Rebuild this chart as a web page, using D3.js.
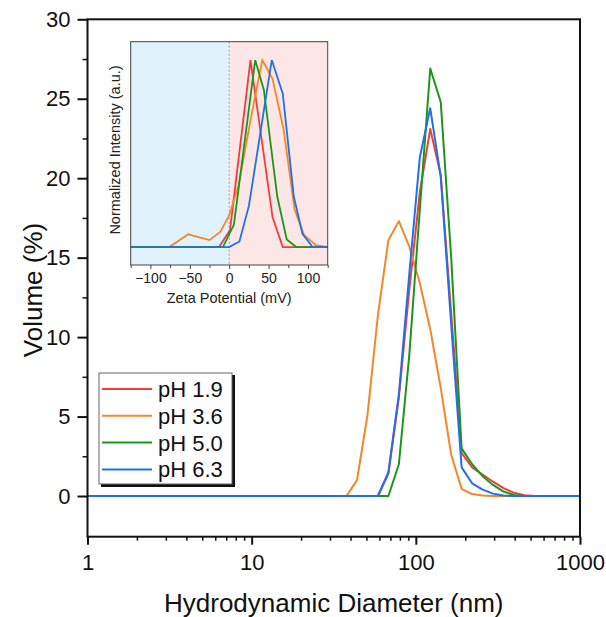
<!DOCTYPE html>
<html>
<head>
<meta charset="utf-8">
<script src="https://cdn.jsdelivr.net/npm/d3@7"></script>
<style>
  body { margin: 0; background: #fff; }
  svg { font-family: "Liberation Sans", Arial, sans-serif; }
</style>
</head>
<body>
<svg id="chart" width="606" height="617"></svg>
<script>
// --- data: DLS size bins (nm) and volume (%) per pH ---
const sizes = [0.9649, 1.117, 1.294, 1.499, 1.736, 2.010, 2.328, 2.696, 3.122, 3.615,
  4.187, 4.849, 5.615, 6.503, 7.531, 8.721, 10.10, 11.70, 13.54, 15.69,
  18.17, 21.04, 24.36, 28.21, 32.67, 37.84, 43.82, 50.75, 58.77, 68.06,
  78.82, 91.28, 105.7, 122.4, 141.8, 164.2, 190.1, 220.2, 255.0, 295.3,
  342.0, 396.1, 458.7, 531.2, 615.1, 712.4, 825.0, 955.4, 1106];

const volPH19 = [0, 0, 0, 0, 0, 0, 0, 0, 0, 0, 0, 0, 0, 0, 0, 0, 0, 0, 0, 0,
  0, 0, 0, 0, 0, 0, 0, 0, 0, 1.4, 6.2, 13.0, 19.1, 23.1, 20.2, 11.5, 2.7, 1.8, 1.35, 0.9,
  0.5, 0.2, 0.05, 0, 0, 0, 0, 0, 0];
const volPH36 = [0, 0, 0, 0, 0, 0, 0, 0, 0, 0, 0, 0, 0, 0, 0, 0, 0, 0, 0, 0,
  0, 0, 0, 0, 0, 0, 1.0, 5.1, 11.4, 16.1, 17.3, 15.7, 13.4, 10.5, 6.8, 2.6, 0.45, 0.12, 0.03, 0,
  0, 0, 0, 0, 0, 0, 0, 0, 0];
const volPH50 = [0, 0, 0, 0, 0, 0, 0, 0, 0, 0, 0, 0, 0, 0, 0, 0, 0, 0, 0, 0,
  0, 0, 0, 0, 0, 0, 0, 0, 0, 0, 2.0, 8.9, 18.0, 26.9, 24.8, 15.0, 3.0, 2.0, 1.25, 0.7,
  0.28, 0.06, 0, 0, 0, 0, 0, 0, 0];
const volPH63 = [0, 0, 0, 0, 0, 0, 0, 0, 0, 0, 0, 0, 0, 0, 0, 0, 0, 0, 0, 0,
  0, 0, 0, 0, 0, 0, 0, 0, 0, 1.5, 6.4, 14.0, 21.3, 24.4, 20.1, 10.8, 1.8, 0.8, 0.4, 0.15,
  0.03, 0, 0, 0, 0, 0, 0, 0, 0];

// inset: zeta potential (mV), normalized intensity
const zetaPH19 = [[-125, 0], [-13, 0], [1, 0.09], [27, 1.0], [55, 0.16], [68, 0], [125, 0]];
const zetaPH36 = [[-125, 0], [-76, 0], [-52, 0.068], [-25, 0.037], [-11, 0.082], [0, 0.17],
  [12, 0.33], [28, 0.7], [42, 1.0], [55, 0.9], [69, 0.63], [83, 0.2], [95, 0.064], [110, 0.01], [125, 0]];
const zetaPH50 = [[-125, 0], [-8, 0], [6, 0.12], [33, 1.0], [44, 0.84], [61, 0.27], [73, 0.04], [85, 0], [125, 0]];
const zetaPH63 = [[-125, 0], [0, 0], [13, 0.03], [25, 0.22], [54, 1.0], [68, 0.82], [82, 0.27], [93, 0.07], [106, 0], [125, 0]];

const labels = ["pH 1.9", "pH 3.6", "pH 5.0", "pH 6.3"];
const colors = ["#ef3e3e", "#f5862a", "#1b961b", "#2170e4"];

const xTicks = [1, 10, 100, 1000];
const yTicks = [0, 5, 10, 15, 20, 25, 30];
const zetaTicks = [-100, -50, 0, 50, 100];

const svg = d3.select("#chart");

// --- main plot ---
const mLeft = 87.5, mRight = 580, mTop = 19.3, mBottom = 536.7;

const x = d3.scaleLog().domain([1, 1000]).range([mLeft, mRight]);
const y = d3.scaleLinear().domain([-2.56, 30]).range([mBottom, mTop]);

svg.append("defs").append("clipPath").attr("id", "plotClip")
  .append("rect").attr("x", mLeft).attr("y", mTop)
  .attr("width", mRight - mLeft).attr("height", mBottom - mTop);

const series = [volPH19, volPH36, volPH50, volPH63];
const line = d3.line()
  .x((d, i) => x(sizes[i]))
  .y((d) => y(d));

svg.append("g").attr("clip-path", "url(#plotClip)")
  .selectAll("path")
  .data(series)
  .enter()
  .append("path")
  .attr("fill", "none")
  .attr("stroke", (d, i) => colors[i])
  .attr("stroke-width", 2)
  .attr("stroke-linejoin", "round")
  .attr("d", line);

// minor ticks
const xMinor = [];
[1, 10, 100].forEach((dec) => { for (let k = 2; k <= 9; k++) xMinor.push(dec * k); });
const yMinor = [2.5, 7.5, 12.5, 17.5, 22.5, 27.5];

svg.append("g")
  .attr("transform", `translate(0,${mBottom})`)
  .call(d3.axisBottom(x).tickValues(xMinor).tickSize(4).tickFormat(""))
  .call((g) => g.select(".domain").remove())
  .selectAll("line").attr("stroke", "#111").attr("stroke-width", 1.5);

svg.append("g")
  .attr("transform", `translate(${mLeft},0)`)
  .call(d3.axisLeft(y).tickValues(yMinor).tickSize(5).tickFormat(""))
  .call((g) => g.select(".domain").remove())
  .selectAll("line").attr("stroke", "#111").attr("stroke-width", 1.5);

// major axes
const xAxis = svg.append("g")
  .attr("transform", `translate(0,${mBottom})`)
  .call(d3.axisBottom(x).tickValues(xTicks).tickFormat(d3.format("d")).tickSize(8).tickPadding(10));
xAxis.select(".domain").remove();
xAxis.selectAll("line").attr("stroke", "#111").attr("stroke-width", 2);
xAxis.selectAll("text").attr("font-size", 22).attr("fill", "#111").style("font-family", "Liberation Sans, Arial");

const yAxis = svg.append("g")
  .attr("transform", `translate(${mLeft},0)`)
  .call(d3.axisLeft(y).tickValues(yTicks).tickSize(10).tickPadding(7));
yAxis.select(".domain").remove();
yAxis.selectAll("line").attr("stroke", "#111").attr("stroke-width", 2);
yAxis.selectAll("text").attr("font-size", 22).attr("fill", "#111").style("font-family", "Liberation Sans, Arial");

// frame
svg.append("rect")
  .attr("x", mLeft).attr("y", mTop)
  .attr("width", mRight - mLeft).attr("height", mBottom - mTop)
  .attr("fill", "none").attr("stroke", "#111").attr("stroke-width", 2);

// titles
svg.append("text")
  .attr("x", (mLeft + mRight) / 2).attr("y", 612)
  .attr("text-anchor", "middle").attr("font-size", 26).attr("fill", "#111")
  .text("Hydrodynamic Diameter (nm)");

svg.append("text")
  .attr("transform", "translate(42,290) rotate(-90)")
  .attr("text-anchor", "middle").attr("font-size", 26).attr("fill", "#111")
  .text("Volume (%)");

// --- legend ---
const legend = svg.append("g");
legend.append("rect").attr("x", 101).attr("y", 375).attr("width", 134).attr("height", 112).attr("fill", "#111");
legend.append("rect").attr("x", 99).attr("y", 373).attr("width", 133).attr("height", 111)
  .attr("fill", "#fff").attr("stroke", "#666").attr("stroke-width", 1);

const rows = legend.selectAll("g.row")
  .data(labels)
  .enter()
  .append("g")
  .attr("class", "row")
  .attr("transform", (d, i) => `translate(0,${389 + i * 26.8})`);
rows.append("line")
  .attr("x1", 102).attr("x2", 152)
  .attr("stroke", (d, i) => colors[i]).attr("stroke-width", 2);
rows.append("text")
  .attr("x", 158).attr("dy", "0.36em")
  .attr("font-size", 22).attr("fill", "#111")
  .text((d) => d);

// --- inset: zeta potential ---
const iL = 130.7, iR = 327.7, iT = 41.7, iB = 265;
const zx = d3.scaleLinear().domain([-125, 125]).range([iL, iR]);
const zy = d3.scaleLinear().domain([-0.096, 1.098]).range([iB, iT]);

const inset = svg.append("g");
inset.append("rect")
  .attr("x", zx(-125)).attr("y", iT)
  .attr("width", zx(0) - zx(-125)).attr("height", iB - iT)
  .attr("fill", "#e0f3fc");
inset.append("rect")
  .attr("x", zx(0)).attr("y", iT)
  .attr("width", zx(125) - zx(0)).attr("height", iB - iT)
  .attr("fill", "#fde6e6");
inset.append("line")
  .attr("x1", zx(0)).attr("x2", zx(0)).attr("y1", iT).attr("y2", iB)
  .attr("stroke", "#999").attr("stroke-width", 1).attr("stroke-dasharray", "2,2");

const zLine = d3.line().x((d) => zx(d[0])).y((d) => zy(d[1]));
inset.selectAll("path.z")
  .data([zetaPH19, zetaPH36, zetaPH50, zetaPH63])
  .enter()
  .append("path")
  .attr("class", "z")
  .attr("fill", "none")
  .attr("stroke", (d, i) => colors[i])
  .attr("stroke-width", 1.8)
  .attr("d", zLine);

const zMinor = [-125, -75, -25, 25, 75, 125];
const zMinorAxis = inset.append("g")
  .attr("transform", `translate(0,${iB})`)
  .call(d3.axisBottom(zx).tickValues(zMinor).tickSize(3).tickFormat(""));
zMinorAxis.select(".domain").remove();
zMinorAxis.selectAll("line").attr("stroke", "#444");

const zAxis = inset.append("g")
  .attr("transform", `translate(0,${iB})`)
  .call(d3.axisBottom(zx).tickValues(zetaTicks).tickSize(4).tickPadding(4)
    .tickFormat((d) => (d < 0 ? "\u2212" + Math.abs(d) : d)));
zAxis.select(".domain").remove();
zAxis.selectAll("line").attr("stroke", "#444");
zAxis.selectAll("text").attr("font-size", 14).attr("fill", "#222").style("font-family", "Liberation Sans, Arial");

inset.append("rect")
  .attr("x", iL).attr("y", iT).attr("width", iR - iL).attr("height", iB - iT)
  .attr("fill", "none").attr("stroke", "#444").attr("stroke-width", 1);

inset.append("text")
  .attr("x", (iL + iR) / 2).attr("y", 303)
  .attr("text-anchor", "middle").attr("font-size", 14.5).attr("fill", "#222")
  .text("Zeta Potential (mV)");
inset.append("text")
  .attr("transform", "translate(120,150) rotate(-90)")
  .attr("text-anchor", "middle").attr("font-size", 14.5).attr("fill", "#222")
  .text("Normalized Intensity (a.u.)");
</script>
</body>
</html>
